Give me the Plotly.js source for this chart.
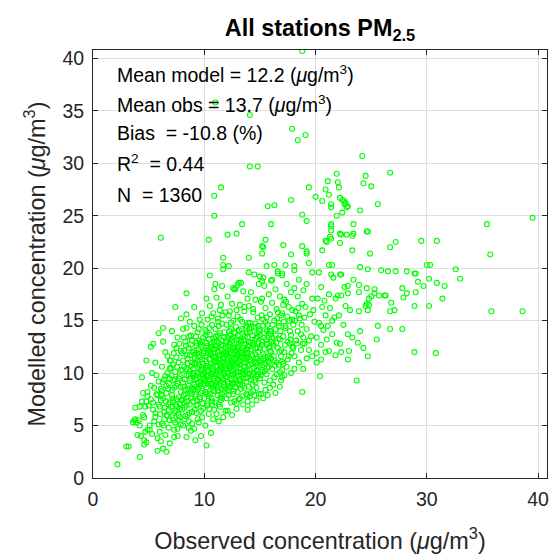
<!DOCTYPE html>
<html><head><meta charset="utf-8">
<script src="https://cdn.plot.ly/plotly-3.0.1.min.js"></script>
<style>html,body{margin:0;padding:0;background:#fff}#chart{width:552px;height:554px}</style>
</head><body><div id="chart"></div>
<script>
// [observed, modelled] pairs (ug/m3)
const lowerTail = [[2.2,1.3],[3.0,3.0],[3.2,3.0],[4.2,2.0],[4.0,4.1],[4.3,4.0],[4.6,3.2],[4.8,3.4],[4.6,3.6],[4.9,4.6],[3.6,5.3],[3.8,5.6],[4.1,5.5],[3.9,5.3],[3.7,5.5],[3.8,6.7],[4.2,6.8],[4.7,6.8],[4.4,9.6],[4.8,11.2],[5.2,12.5],[5.4,12.8],[5.9,13.8],[6.3,14.3],[5.8,2.6],[6.3,2.8],[6.6,2.5],[6.9,3.3],[10.2,3.1],[9.2,3.6],[9.7,4.0],[4.9,8.2],[4.5,8.1],[4.4,7.3],[4.5,6.0],[4.2,5.0],[4.7,4.4],[4.9,7.8],[4.8,7.3],[4.6,5.8],[12.5,6.0],[12.9,6.6],[13.9,6.5],[13.9,7.3],[15.7,7.9],[16.4,8.1]];

const denseCloud = [
[5.3,4.2],[5.1,5.0],[5.6,5.8],[5.4,6.5],[5.9,7.0],[5.2,7.5],[5.7,8.0],[5.5,8.6],[5.9,9.2],[5.3,10.0],[5.6,6.2],[5.1,4.6],[5.8,7.9],[5.5,5.4],[5.7,9.8],[5.0,6.9],[5.9,5.1],[5.4,7.2],[5.8,3.8],[5.2,8.8],[5.6,11.0],
[6.1,3.5],[6.5,4.1],[6.8,4.8],[6.2,5.2],[6.7,5.9],[6.4,6.3],[6.0,6.8],[6.9,7.2],[6.3,7.6],[6.6,8.1],[6.1,8.5],[6.8,9.0],[6.4,9.4],[6.7,10.0],[6.2,10.6],[6.9,11.2],[6.5,12.0],[6.3,13.0],[6.6,6.0],[6.8,7.0],[6.2,8.3],[6.9,5.5],[6.5,9.7],[6.0,4.4],[6.7,11.6],[6.4,5.6],[6.8,6.5],[6.1,7.4],[6.6,8.8],[6.9,10.4],
[7.3,3.9],[7.6,4.0],[7.3,4.6],[7.9,5.1],[7.2,5.5],[7.7,6.0],[7.4,6.4],[7.0,6.8],[7.8,7.1],[7.5,7.5],[7.1,7.9],[7.9,8.2],[7.3,8.6],[7.6,9.0],[7.2,9.3],[7.8,9.7],[7.4,10.1],[7.0,10.5],[7.7,11.0],[7.5,11.5],[7.9,12.1],[7.3,12.7],[7.6,13.4],[7.1,14.0],[7.8,5.8],[7.2,7.3],[7.5,8.8],[7.9,10.3],[7.3,6.2],[7.7,9.5],[7.0,11.2],[7.6,4.7],[7.4,5.3],[7.8,6.6],[7.1,8.4],[7.7,7.7],[7.5,12.4],[7.2,10.8],
[8.4,3.9],[8.8,4.5],[8.1,5.0],[8.6,5.4],[8.3,5.9],[8.9,6.3],[8.2,6.7],[8.7,7.0],[8.0,7.4],[8.5,7.7],[8.9,8.1],[8.3,8.4],[8.6,8.8],[8.1,9.1],[8.8,9.5],[8.4,9.8],[8.7,10.2],[8.2,10.6],[8.9,11.0],[8.5,11.4],[8.0,11.9],[8.6,12.4],[8.3,13.0],[8.8,13.6],[8.1,14.2],[8.7,14.9],[8.4,15.6],[8.5,6.0],[8.2,7.2],[8.9,8.6],[8.6,9.9],[8.1,11.2],[8.8,12.7],[8.4,10.4],[8.9,5.2],[8.3,8.0],[8.7,9.3],[8.0,6.5],[8.5,10.9],[8.2,12.1],[8.8,7.6],[8.6,4.8],[8.1,8.7],[8.7,11.7],[8.9,13.1],[8.4,6.9],
[9.1,4.7],[9.5,5.3],[9.8,5.8],[9.3,6.2],[9.9,6.6],[9.4,7.0],[9.0,7.3],[9.6,7.7],[9.2,8.0],[9.8,8.3],[9.5,8.6],[9.1,8.9],[9.7,9.2],[9.3,9.5],[9.9,9.8],[9.4,10.1],[9.0,10.4],[9.6,10.7],[9.2,11.0],[9.8,11.3],[9.5,11.7],[9.1,12.1],[9.7,12.5],[9.3,12.9],[9.9,13.4],[9.4,13.9],[9.1,14.5],[9.6,15.1],[9.3,6.9],[9.7,8.1],[9.2,9.4],[9.8,10.6],[9.4,11.9],[9.6,7.5],[9.0,10.0],[9.5,12.3],[9.9,9.0],[9.7,6.4],[9.2,7.8],[9.4,8.5],[9.9,9.5],[9.1,10.9],[9.6,11.5],[9.3,12.6],[9.8,13.0],[9.5,14.2],[9.0,8.4],[9.7,10.3],[9.2,11.8],[9.4,5.6],
[10.6,4.3],[10.1,5.0],[10.8,5.6],[10.4,6.1],[10.9,6.5],[10.3,6.9],[10.7,7.3],[10.0,7.6],[10.5,8.0],[10.9,8.3],[10.2,8.6],[10.6,8.9],[10.1,9.2],[10.8,9.5],[10.4,9.8],[10.0,10.1],[10.7,10.4],[10.3,10.7],[10.9,11.0],[10.5,11.3],[10.1,11.6],[10.8,11.9],[10.4,12.2],[10.6,12.5],[10.2,12.9],[10.9,13.3],[10.5,13.7],[10.1,14.1],[10.7,14.6],[10.3,15.1],[10.8,15.7],[10.5,16.4],[10.2,17.1],[10.9,18.0],[10.3,7.1],[10.8,8.4],[10.2,9.7],[10.6,10.9],[10.0,12.1],[10.7,9.0],[10.3,10.3],[10.9,11.5],[10.6,12.8],[10.4,7.8],[10.1,8.2],[10.7,9.9],[10.2,11.1],[10.8,12.3],[10.4,13.2],[10.9,8.8],[10.5,10.6],[10.0,9.4],[10.6,11.8],[10.3,12.6],[10.8,10.2],[10.1,13.6],[10.7,7.0],
[11.3,5.4],[11.7,5.8],[11.1,6.1],[11.9,6.4],[11.4,6.8],[11.0,7.2],[11.6,7.6],[11.2,7.9],[11.8,8.2],[11.5,8.5],[11.1,8.8],[11.7,9.1],[11.3,9.4],[11.9,9.7],[11.0,10.0],[11.6,10.3],[11.2,10.6],[11.8,10.9],[11.4,11.2],[11.0,11.5],[11.7,11.8],[11.3,12.1],[11.9,12.4],[11.5,12.7],[11.1,13.0],[11.8,13.4],[11.4,13.8],[11.0,14.2],[11.6,14.7],[11.2,15.2],[11.9,15.8],[11.5,16.5],[11.1,17.2],[11.2,9.3],[11.6,10.5],[11.9,11.7],[11.3,12.9],[11.8,8.9],[11.1,10.2],[11.4,11.4],[11.7,12.6],[11.5,7.4],[11.2,8.6],[11.8,9.9],[11.4,10.8],[11.0,12.3],[11.6,13.1],[11.3,14.5],[11.9,10.4],[11.5,9.6],[11.1,11.1],[11.7,11.4],[11.3,7.0],[11.8,13.9],[11.4,16.0],[11.2,12.0],[11.6,8.0],
[12.1,6.4],[12.9,7.1],[12.4,7.2],[12.0,7.6],[12.6,8.0],[12.2,8.3],[12.8,8.6],[12.5,8.9],[12.1,9.2],[12.7,9.5],[12.3,9.8],[12.9,10.1],[12.0,10.4],[12.6,10.7],[12.2,11.0],[12.8,11.3],[12.4,11.6],[12.0,11.9],[12.7,12.2],[12.3,12.5],[12.9,12.8],[12.5,13.1],[12.1,13.4],[12.8,13.8],[12.4,14.2],[12.0,14.6],[12.6,15.0],[12.2,15.5],[12.9,16.0],[12.5,16.6],[12.1,17.3],[12.7,18.0],[12.2,9.0],[12.6,10.3],[12.9,11.5],[12.3,12.7],[12.7,13.9],[12.8,8.7],[12.1,10.0],[12.4,11.2],[12.7,12.4],[12.2,7.9],[12.8,9.3],[12.4,10.6],[12.0,12.0],[12.6,11.8],[12.3,13.6],[12.9,9.7],[12.5,10.9],[12.1,8.4],[12.7,7.3],[12.4,14.8],[12.8,12.1],[12.2,11.4],[12.6,9.0],[12.3,15.9],[12.9,13.2],
[13.5,7.0],[13.1,7.5],[13.9,7.9],[13.4,7.8],[13.0,8.2],[13.6,8.6],[13.2,8.9],[13.8,9.2],[13.5,9.5],[13.1,9.8],[13.7,10.1],[13.3,10.4],[13.9,10.7],[13.0,11.0],[13.6,11.3],[13.2,11.6],[13.8,11.9],[13.4,12.2],[13.0,12.5],[13.7,12.8],[13.3,13.1],[13.9,13.4],[13.5,13.7],[13.1,14.1],[13.8,14.5],[13.4,14.9],[13.0,15.4],[13.6,15.9],[13.2,16.5],[13.9,17.1],[13.5,17.8],[13.1,18.6],[13.2,9.4],[13.6,10.6],[13.9,11.8],[13.3,13.0],[13.8,8.0],[13.1,11.1],[13.5,12.4],[13.7,14.3],[13.0,9.0],[13.6,9.9],[13.2,10.8],[13.8,12.3],[13.4,11.5],[13.0,13.6],[13.7,11.0],[13.3,8.5],[13.9,9.6],[13.5,10.2],[13.1,12.7],[13.6,16.3],[13.8,13.8],[13.2,7.6],
[14.3,7.0],[14.7,7.4],[14.1,7.8],[14.9,8.0],[14.4,8.3],[14.0,8.7],[14.6,9.1],[14.2,9.4],[14.8,9.7],[14.5,10.0],[14.1,10.3],[14.7,10.6],[14.3,10.9],[14.9,11.2],[14.0,11.5],[14.6,11.8],[14.2,12.1],[14.8,12.4],[14.4,12.7],[14.0,13.0],[14.7,13.3],[14.3,13.6],[14.9,14.0],[14.5,14.4],[14.1,14.8],[14.8,15.3],[14.4,15.8],[14.0,16.4],[14.6,17.0],[14.2,17.7],[14.9,18.5],[14.5,19.4],[14.6,11.0],[14.2,12.3],[14.8,13.5],[14.4,9.9],[14.1,10.8],[14.7,8.6],[14.3,11.7],[14.9,12.9],[14.5,9.3],[14.1,13.9],[14.7,10.2],[14.4,16.1],[14.6,14.7],[14.2,8.1],[14.8,11.4],[14.0,12.6],[14.5,7.9],
[15.3,7.6],[15.1,8.0],[15.9,8.6],[15.4,9.1],[15.0,9.5],[15.6,9.9],[15.2,10.3],[15.8,10.6],[15.5,10.9],[15.1,11.2],[15.7,11.5],[15.3,11.8],[15.9,12.1],[15.0,12.4],[15.6,12.7],[15.2,13.0],[15.8,13.4],[15.4,13.8],[15.0,14.2],[15.7,14.6],[15.3,15.1],[15.9,15.6],[15.5,16.2],[15.1,16.8],[15.8,17.5],[15.4,18.3],[15.0,19.2],[15.6,20.2],[15.3,11.4],[15.7,12.8],[15.2,10.1],[15.9,14.0],[15.5,8.4],[15.1,9.8],[15.8,11.0],[15.4,12.3],[15.0,13.6],[15.6,15.3],[15.2,17.1],[15.9,9.3],[15.5,14.9],
[16.8,8.7],[16.2,8.9],[16.9,9.3],[16.5,9.9],[16.1,10.4],[16.7,10.8],[16.3,11.2],[16.9,11.6],[16.0,12.0],[16.6,12.4],[16.2,12.8],[16.8,13.2],[16.4,13.6],[16.0,14.0],[16.7,14.5],[16.3,15.0],[16.9,15.5],[16.5,16.1],[16.1,16.7],[16.8,17.3],[16.4,18.0],[16.0,18.8],[16.6,19.7],[16.2,12.6],[16.7,14.8],[16.5,11.0],[16.1,13.4],[16.9,12.2],[16.3,9.6],[16.6,15.8],[16.0,11.4],[16.8,10.1],[16.4,14.2],
[17.8,10.0],[17.4,10.6],[17.0,11.1],[17.6,11.6],[17.2,12.0],[17.9,12.5],[17.5,13.0],[17.1,13.5],[17.7,14.0],[17.3,14.5],[17.9,15.1],[17.0,15.7],[17.6,16.3],[17.2,17.0],[17.8,17.7],[17.4,18.5],[17.0,19.3],[17.7,12.8],[17.3,14.3],[17.9,16.0],[17.5,11.3],[17.1,16.5],[17.8,13.6],
[18.5,11.0],[18.1,11.6],[18.7,12.2],[18.3,12.8],[18.9,13.4],[18.4,14.0],[18.0,14.6],[18.6,15.2],[18.2,15.9],[18.8,16.6],[18.4,17.3],[18.1,18.1],[18.7,13.7],[18.5,15.5],[18.0,12.4],[18.9,17.9],
[19.2,11.4],[19.7,11.6],[19.4,12.2],[19.0,12.8],[19.6,13.5],[19.2,14.2],[19.9,14.9],[19.5,15.6],[19.1,16.3],[19.7,17.1],[19.4,13.1],[19.8,16.0],[19.0,15.3],
[20.9,12.0],[20.5,12.7],[20.1,13.4],[20.7,14.1],[20.3,14.8],[20.9,15.5],[20.6,16.3],[20.2,17.1],[20.5,14.5],[20.8,16.9],[20.1,11.9],
[21.2,12.1],[21.9,12.9],[21.5,13.7],[21.1,14.5],[21.7,15.3],[21.3,16.2],[21.8,17.1],[21.5,15.0],[21.0,13.2],
[22.2,12.8],[22.9,13.7],[22.5,14.6],[22.1,15.5],[22.7,16.4],[22.3,17.4]];

const coreFill = [
[6.45,6.7],[6.15,7.9],[6.75,8.5],[6.35,5.0],[6.55,7.3],[6.85,9.5],[6.25,9.1],[6.05,6.1],
[7.45,7.0],[7.15,6.0],[7.85,8.7],[7.55,10.6],[7.25,11.9],[7.65,5.5],[7.05,9.8],[7.95,7.4],[7.35,9.4],[7.75,12.8],[7.15,7.6],[7.55,6.8],
[8.25,9.4],[8.75,8.3],[8.45,11.7],[8.15,7.9],[8.95,9.8],[8.35,12.6],[8.65,6.2],[8.05,10.3],[8.55,8.5],[8.85,10.7],[8.25,5.6],[8.65,13.5],[8.45,7.3],[8.95,12.0],[8.15,13.4],
[9.25,8.7],[9.75,9.9],[9.45,10.5],[9.15,11.4],[9.85,7.1],[9.35,7.4],[9.65,12.8],[9.05,9.7],[9.55,10.0],[9.95,11.9],[9.25,13.5],[9.65,8.9],[9.45,9.1],[9.15,6.5],[9.85,10.9],[9.35,11.2],[9.75,14.6],[9.55,13.1],
[10.25,8.0],[10.75,8.6],[10.45,9.3],[10.15,10.5],[10.85,11.2],[10.35,11.9],[10.65,10.0],[10.05,11.3],[10.55,12.0],[10.95,9.7],[10.25,10.2],[10.65,7.6],[10.45,14.3],[10.15,12.4],[10.85,13.0],[10.35,9.0],[10.75,11.6],[10.05,8.9],[10.55,9.6],[10.95,12.6],[10.25,13.9],[10.65,15.4],[10.45,6.6],
[11.25,8.3],[11.75,8.7],[11.45,9.2],[11.15,9.9],[11.85,10.6],[11.35,11.7],[11.65,11.1],[11.05,10.7],[11.55,12.2],[11.95,13.0],[11.25,13.6],[11.65,9.4],[11.45,10.1],[11.15,12.6],[11.85,12.0],[11.35,10.3],[11.75,10.0],[11.05,9.1],[11.55,11.0],[11.95,8.5],[11.25,14.9],[11.65,15.5],[11.45,7.7],[11.05,13.5],
[12.25,8.7],[12.75,9.0],[12.45,9.5],[12.15,10.7],[12.85,10.9],[12.35,11.9],[12.65,11.4],[12.05,11.2],[12.55,12.4],[12.95,12.1],[12.25,12.9],[12.65,13.4],[12.45,10.2],[12.15,12.2],[12.85,14.4],[12.35,10.5],[12.75,10.0],[12.05,9.6],[12.55,9.9],[12.95,11.8],[12.25,14.0],[12.65,8.3],[12.45,13.3],[12.05,13.0],
[13.25,9.2],[13.75,9.5],[13.45,10.0],[13.15,10.5],[13.85,11.5],[13.35,11.9],[13.65,12.1],[13.05,11.7],[13.55,13.1],[13.95,12.6],[13.25,12.0],[13.65,13.5],[13.45,8.8],[13.15,13.2],[13.85,10.3],[13.35,14.2],[13.75,11.6],[13.05,10.1],[13.55,11.0],[13.95,14.8],[13.25,15.1],
[14.25,9.7],[14.75,9.9],[14.45,10.5],[14.15,11.3],[14.85,12.0],[14.35,12.9],[14.65,12.4],[14.05,10.0],[14.55,13.1],[14.95,10.7],[14.25,14.3],[14.65,11.4],[14.45,11.1],[14.15,12.9],[14.85,14.5],[14.35,8.9],[14.75,13.8],[14.05,14.2],
[15.25,10.8],[15.75,11.2],[15.45,11.6],[15.15,12.7],[15.85,12.5],[15.35,13.4],[15.65,10.5],[15.05,11.0],[15.55,13.2],[15.95,13.7],[15.25,14.5],[15.65,14.0],[15.45,10.2],[15.15,15.5],
[16.25,11.6],[16.75,12.0],[16.45,12.9],[16.15,14.6],[16.85,14.0],[16.35,10.7],[16.65,13.3],[16.05,13.0],[16.55,15.2],
[17.25,12.7],[17.75,13.2],[17.45,15.4],[17.15,14.9],[17.85,11.9],[17.35,16.8],[17.65,15.0],
[18.25,13.1],[18.75,14.6],[18.45,16.2],[18.15,15.0],[18.85,12.8]];

const upperScatter = [[18.8,40.7],[11.0,35.8],[14.1,34.6],[17.9,33.3],[19.1,32.7],[18.4,32.2],[14.1,29.7],[14.8,29.7],[24.2,30.7],[26.7,29.1],[21.9,29.0],[24.5,28.8],[24.3,28.1],[25.0,27.8],[21.1,28.3],[22.0,28.2],[22.1,27.7],[19.4,27.7],[20.9,27.5],[21.2,27.0],[20.0,26.8],[20.6,26.4],[21.4,26.1],[22.2,26.7],[22.4,26.5],[22.6,26.4],[22.7,26.2],[22.9,25.9],[17.8,26.5],[25.6,26.1],[24.0,25.5],[22.4,25.3],[21.9,25.0],[18.8,25.1],[19.2,24.5],[21.4,24.2],[21.4,24.0],[21.4,23.6],[21.3,23.0],[20.9,22.6],[23.4,24.2],[24.7,23.5],[22.2,23.3],[22.3,23.2],[22.8,23.2],[23.3,23.1],[22.2,22.4],[20.6,21.7],[17.1,22.2],[18.8,22.1],[19.2,21.6],[19.2,21.4],[17.8,21.3],[23.3,21.7],[24.9,21.4],[26.7,22.0],[27.2,22.5],[29.5,22.6],[30.9,22.6],[35.4,24.2],[39.5,24.8],[35.7,21.3],[11.5,27.7],[10.9,26.9],[15.7,25.9],[16.3,26.0],[10.9,25.0],[13.4,24.2],[16.0,24.2],[6.1,22.9],[10.4,22.7],[12.1,23.2],[12.9,23.3],[11.7,21.0],[11.7,20.3],[11.7,19.9],[12.2,20.2],[10.5,19.3],[11.0,18.5],[11.6,18.3],[8.4,17.6],[7.4,16.3],[9.1,16.3],[7.9,15.2],[9.8,15.7],[8.4,14.3],[15.2,22.1],[15.3,22.0],[15.2,21.4],[15.5,22.7],[14.0,21.0],[16.3,20.3],[16.6,19.5],[17.0,19.5],[16.1,18.9],[15.3,19.1],[15.2,18.8],[14.0,19.6],[12.6,18.1],[12.8,18.0],[13.0,18.4],[13.3,18.6],[21.4,25.8],[22.6,26.1],[22.8,25.8],[21.0,22.5],[21.4,22.8],[23.4,23.3],[24.6,23.5]];

const rightTail = [[19.4,20.5],[21.2,20.3],[21.5,20.3],[17.3,20.3],[18.1,20.2],[18.1,19.8],[24.0,20.1],[30.0,20.3],[30.3,20.3],[32.6,19.9],[25.9,19.8],[26.5,19.7],[27.2,19.7],[28.2,19.7],[28.9,19.5],[29.0,19.5],[20.3,19.6],[19.7,19.6],[22.3,19.4],[21.6,19.1],[30.2,19.0],[33.0,19.0],[29.2,18.7],[29.7,18.3],[30.9,18.6],[31.6,18.3],[18.5,18.9],[23.4,18.9],[19.2,18.5],[23.9,18.4],[24.6,18.1],[25.3,18.0],[27.8,18.1],[20.5,18.2],[22.6,18.2],[22.9,18.3],[23.9,17.7],[22.9,17.6],[21.2,17.5],[22.0,17.4],[25.3,17.6],[25.7,17.4],[26.2,17.4],[26.3,17.4],[25.0,17.3],[24.8,17.1],[28.2,17.6],[27.9,17.2],[29.0,17.7],[31.4,17.1],[30.2,16.4],[28.9,16.4],[26.7,15.9],[27.1,16.0],[26.8,16.7],[24.6,16.6],[24.5,16.4],[24.8,16.5],[23.9,15.9],[23.1,16.0],[24.7,16.0],[35.8,15.9],[38.6,15.9],[25.6,14.5],[26.7,14.2],[27.8,14.2],[25.5,13.2],[24.0,14.0],[23.3,13.4],[23.8,12.9],[24.3,12.4],[24.7,11.6],[28.9,12.0],[30.8,11.9],[23.7,9.3],[18.8,8.2],[20.4,9.7],[22.9,11.3],[21.8,11.7],[22.3,12.0],[23.0,12.1],[20.1,11.0],[20.5,11.3],[18.9,10.4],[18.1,10.4],[17.2,9.8],[17.0,9.6],[17.0,10.3],[17.1,10.9],[24.7,19.9],[21.4,19.4],[22.2,19.4]];

const xTickVals = [0, 10, 20, 30, 40];
const yTickVals = [0, 5, 10, 15, 20, 25, 30, 35, 40];
const statLines = [
  'Mean model = 12.2 (<i>\u03bc</i>g/m<sup>3</sup>)',
  'Mean obs = 13.7 (<i>\u03bc</i>g/m<sup>3</sup>)',
  'Bias\u00a0\u00a0= -10.8 (%)',
  'R<sup>2</sup>\u00a0\u00a0= 0.44',
  'N\u00a0\u00a0= 1360'
];
const statY = [0.944, 0.874, 0.806, 0.736, 0.662];

const allPairs = lowerTail.concat(denseCloud, coreFill, upperScatter, rightTail);
const observed = allPairs.map(p => p[0]);
const modelled = allPairs.map(p => p[1]);

const FONT = 'Liberation Sans, Arial, Helvetica, sans-serif';
const AX = '#262626';

const trace = {
  type: 'scatter', mode: 'markers', x: observed, y: modelled,
  marker: {symbol: 'circle-open', size: 5, color: '#00ff00', line: {width: 1.1, color: '#00ff00'}},
  hoverinfo: 'skip'
};

function axisBase() {
  return {
    ticks: 'inside', ticklen: 5, tickwidth: 1, tickcolor: AX,
    showline: true, linecolor: AX, linewidth: 1, mirror: 'ticks',
    showgrid: true, gridcolor: '#dedede', gridwidth: 1, zeroline: false,
    ticklabelstandoff: 4,
    tickfont: {family: FONT, size: 19.5, color: AX}, fixedrange: true, automargin: false
  };
}

const xaxis = Object.assign(axisBase(), {
  range: [0, 40.8], tickmode: 'array', tickvals: xTickVals, ticktext: xTickVals.map(String),
  title: {text: 'Observed concentration (<i>\u03bc</i>g/m<sup>3</sup>)', font: {family: FONT, size: 23.4, color: AX}, standoff: 24}
});
const yaxis = Object.assign(axisBase(), {
  range: [0, 40.8], tickmode: 'array', tickvals: yTickVals, ticktext: yTickVals.map(String),
  title: {text: 'Modelled concentration (<i>\u03bc</i>g/m<sup>3</sup>)', font: {family: FONT, size: 23.4, color: AX}, standoff: 10}
});

const annotations = statLines.map((t, i) => ({
  text: t, xref: 'paper', yref: 'paper', x: 0.049, y: statY[i],
  xanchor: 'left', yanchor: 'middle', showarrow: false, align: 'left',
  font: {family: FONT, size: 19.5, color: '#000'}
}));

const layout = {
  width: 552, height: 554,
  margin: {l: 93, r: 5, t: 50, b: 76, pad: 0},
  paper_bgcolor: '#ffffff', plot_bgcolor: '#ffffff',
  showlegend: false,
  title: {text: '<b>All stations PM<sub>2.5</sub></b>', font: {family: FONT, size: 23.4, color: '#000'},
          x: 0.5, xref: 'paper', xanchor: 'center', y: 1 - 28/554, yref: 'container', yanchor: 'middle'},
  xaxis: xaxis, yaxis: yaxis,
  annotations: annotations
};

Plotly.newPlot('chart', [trace], layout, {displayModeBar: false, staticPlot: true});
</script>
</body></html>
